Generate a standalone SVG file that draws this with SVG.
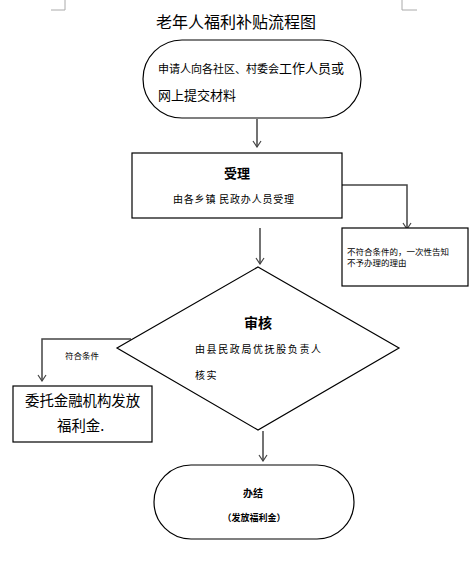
<svg xmlns="http://www.w3.org/2000/svg" width="473" height="571" viewBox="0 0 473 571">
<style>
.s{fill:#fff;stroke:#000;stroke-width:1.2}
.c{fill:none;stroke:#444;stroke-width:1.5}
.t{font-family:"Noto Sans CJK SC","Liberation Sans",sans-serif;fill:#000}
.m{fill:none;stroke:#444;stroke-width:1.2}
</style>
<defs>
<marker id="a" markerWidth="10" markerHeight="10" refX="9" refY="5" orient="auto" markerUnits="userSpaceOnUse" viewBox="0 0 10 10">
<path d="M3,1 L9,5 L3,9" class="m"/>
</marker>
</defs>
<rect width="473" height="571" fill="#fff"/>
<g id="marks" stroke="#aaa" stroke-width="1" fill="none">
<path d="M65,0 V10 H51"/>
<path d="M402,0 V10 H417"/>
</g>
<text class="t" x="236" y="28" font-size="16" text-anchor="middle">老年人福利补贴流程图</text>
<g id="connectors">
<path class="c" d="M257,119 V147" marker-end="url(#a)"/>
<path class="c" d="M342,185 H407 V229" marker-end="url(#a)"/>
<path class="c" d="M260,228 V264" marker-end="url(#a)"/>
<path class="c" d="M131,339 H42 V381" marker-end="url(#a)"/>
<path class="c" d="M263,431 V461" marker-end="url(#a)"/>
<text class="t" x="65" y="359" font-size="8.5">符合条件</text>
</g>
<g id="start">
<rect class="s" x="143" y="40" width="218" height="78" rx="39"/>
<text class="t" x="158" y="73"><tspan font-size="11">申请人向各社区、村委会</tspan><tspan font-size="13">工作人员或</tspan></text>
<text class="t" x="158" y="100" font-size="13">网上提交材料</text>
</g>
<g id="accept">
<rect class="s" x="132" y="153" width="210" height="65"/>
<text class="t" x="237" y="178" font-size="13" font-weight="bold" text-anchor="middle">受理</text>
<text class="t" x="173" y="203" font-size="10" letter-spacing="0.8">由各乡镇 民政办人员受理</text>
</g>
<g id="reject">
<rect class="s" x="342" y="228" width="126" height="58"/>
<text class="t" x="347" y="255" font-size="8.5">不符合条件的，一次性告知</text>
<text class="t" x="347" y="266" font-size="8.5">不予办理的理由</text>
</g>
<g id="review">
<polygon class="s" points="258,267 399,348 258,430 117,348"/>
<text class="t" x="258" y="328" font-size="14" font-weight="bold" text-anchor="middle">审核</text>
<text class="t" x="195" y="353" font-size="10" letter-spacing="1.6">由县民政局优抚股负责人</text>
<text class="t" x="195" y="379" font-size="10" letter-spacing="1.6">核实</text>
</g>
<g id="pay">
<rect class="s" x="13" y="386" width="139" height="56"/>
<text class="t" x="25" y="406" font-size="14.4">委托金融机构发放</text>
<text class="t" x="57" y="431" font-size="14.4">福利金.</text>
</g>
<g id="end">
<rect class="s" x="154" y="465" width="200" height="74" rx="37"/>
<text class="t" x="253" y="497" font-size="10" font-weight="bold" text-anchor="middle">办结</text>
<text class="t" x="254" y="521" font-size="9" font-weight="bold" text-anchor="middle">（发放福利金）</text>
</g>
</svg>
